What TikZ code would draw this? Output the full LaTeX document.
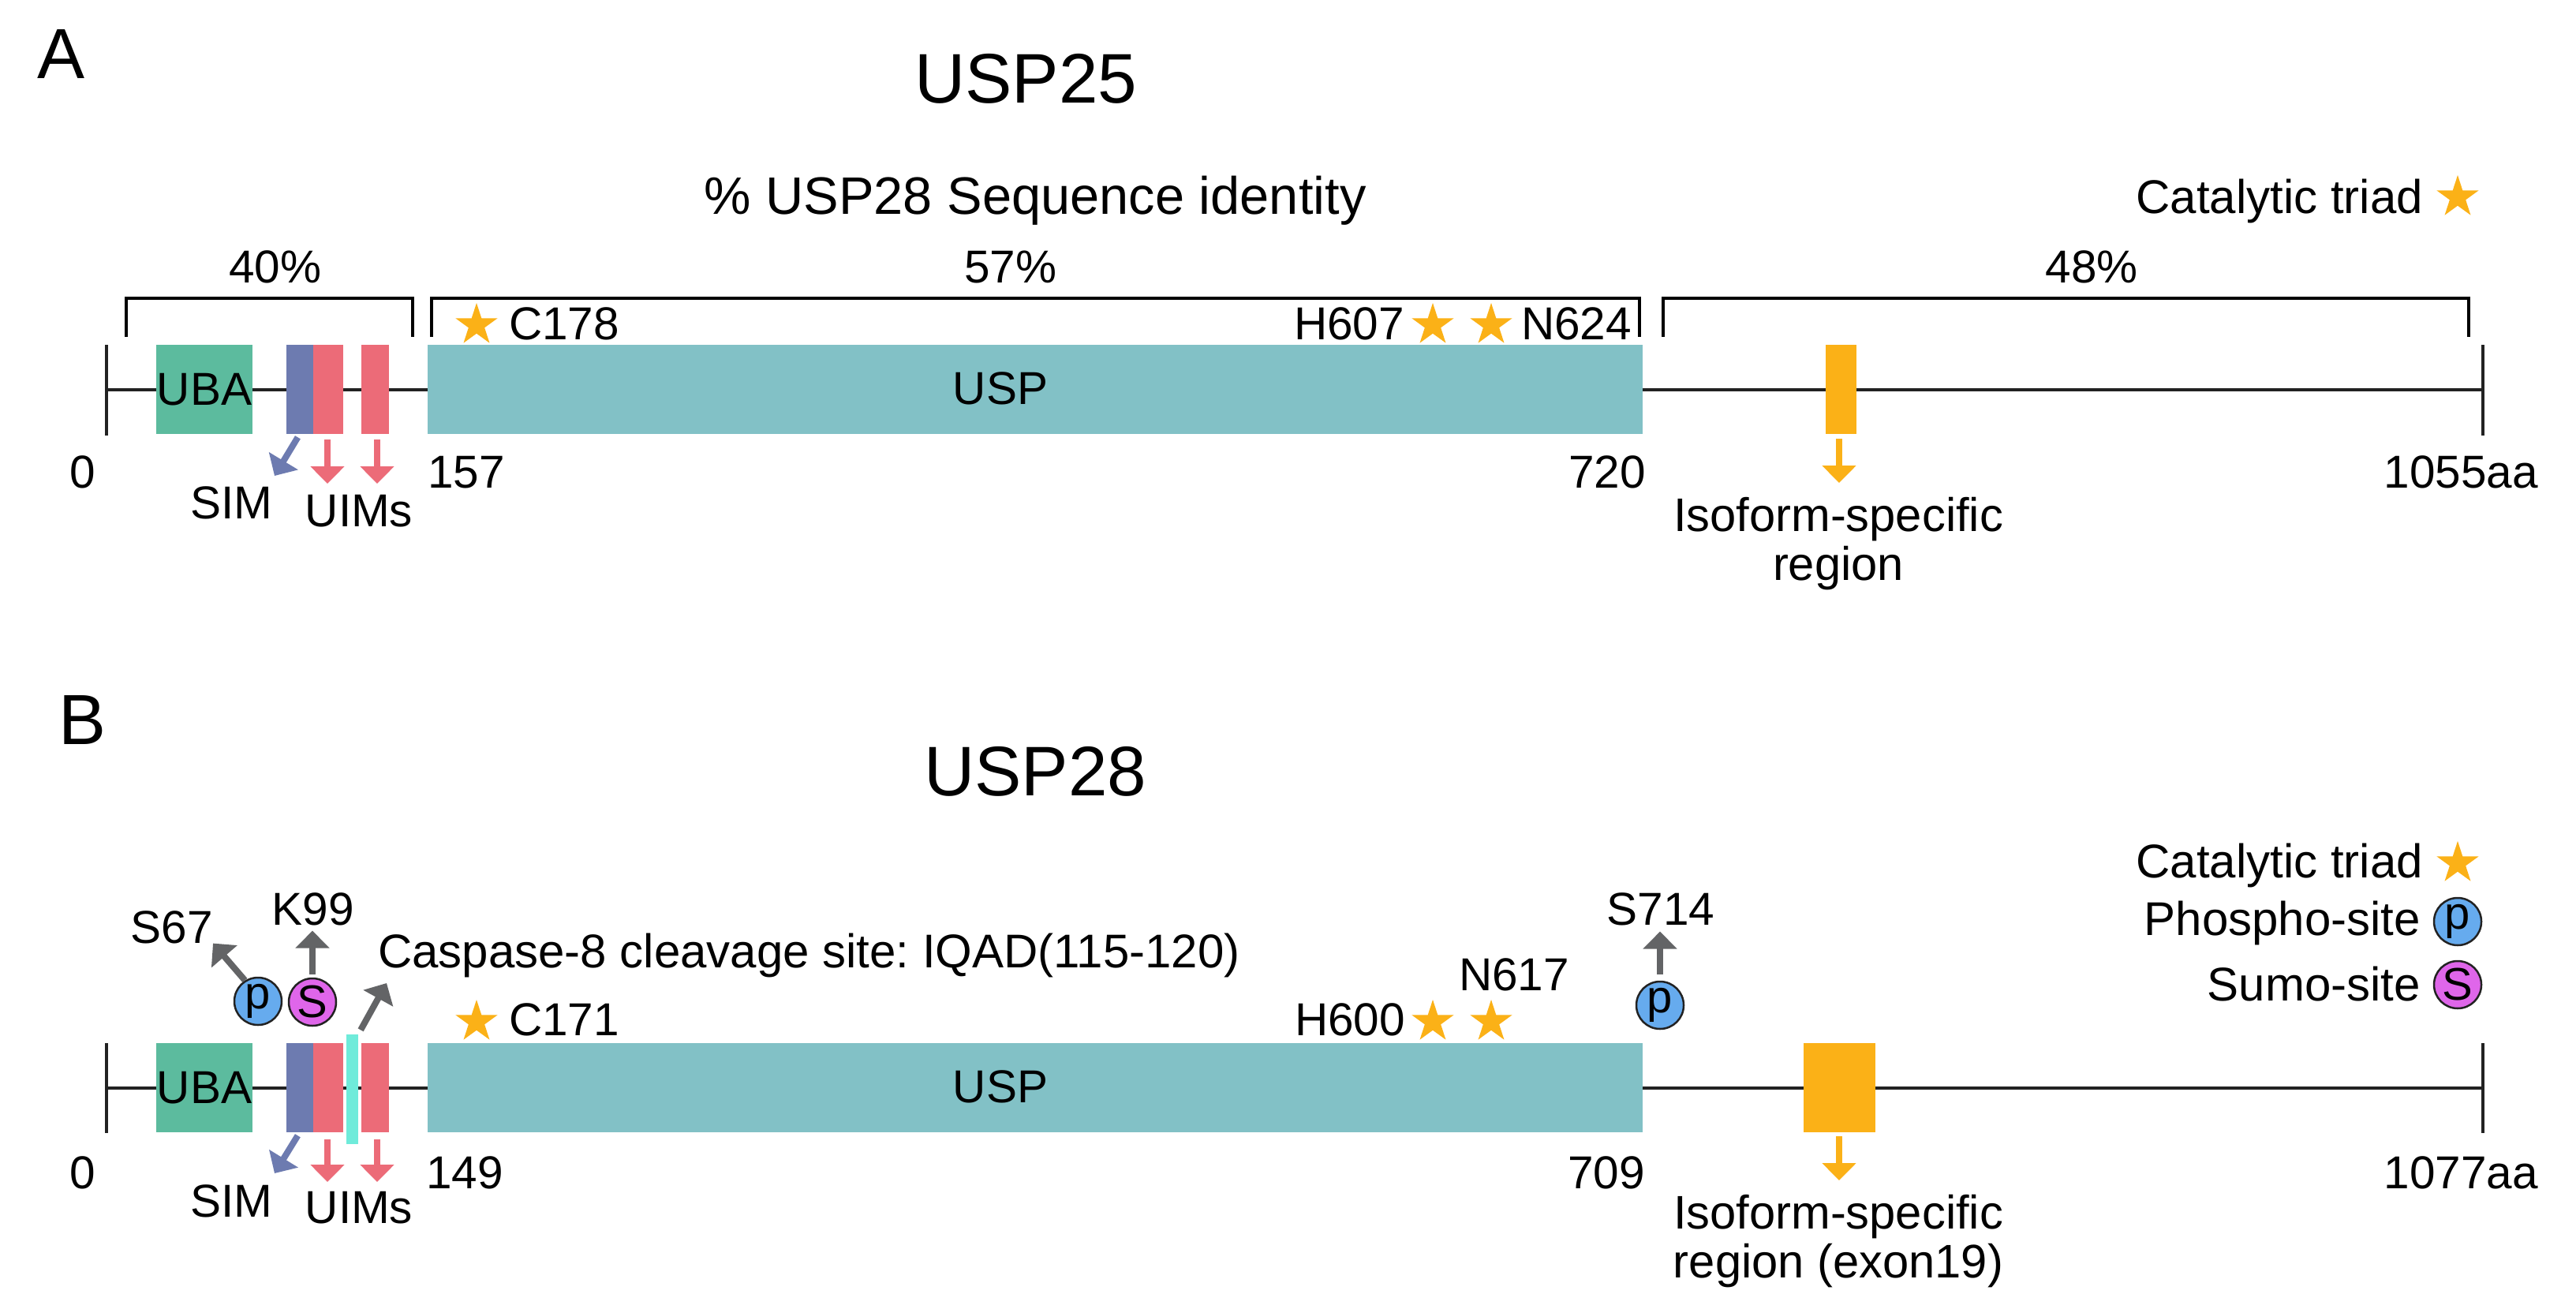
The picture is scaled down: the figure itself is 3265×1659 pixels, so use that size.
\documentclass[tikz,border=0pt]{standalone}
\usepackage{fontspec}
\setmainfont{Liberation Sans}
\usetikzlibrary{shapes.geometric,arrows.meta}
\definecolor{cUBA}{HTML}{5CBB9E}
\definecolor{cSIM}{HTML}{6D7BB0}
\definecolor{cUIM}{HTML}{EC6B78}
\definecolor{cUSP}{HTML}{82C1C6}
\definecolor{cISO}{HTML}{FBB117}
\definecolor{cP}{HTML}{66ABEE}
\definecolor{cS}{HTML}{DF66EA}
\definecolor{cCL}{HTML}{6FEBDA}
\definecolor{cGR}{HTML}{636466}
\definecolor{cLN}{HTML}{222222}
\tikzset{
  lab/.style={inner sep=0pt,outer sep=0pt,font=\fontsize{58.5}{60}\selectfont,anchor=base},
  labl/.style={lab,anchor=base west},
  labr/.style={lab,anchor=base east},
  isolab/.style={lab,font=\fontsize{59.7}{60}\selectfont},
  toplab/.style={lab,font=\fontsize{60}{62}\selectfont},
  titlelab/.style={lab,font=\fontsize{89}{90}\selectfont},
  box/.style={inner sep=0pt,outer sep=0pt,minimum height=113pt,font=\fontsize{58.5}{60}\selectfont},
  tickline/.style={draw=cLN,line width=4pt},
  bracketline/.style={draw=black,line width=3.2pt,line cap=butt,line join=miter},
  tri/.style={star,star points=5,star point ratio=2.618,minimum size=56pt,inner sep=0pt,fill=cISO},
  site/.style={circle,draw=cLN,line width=2.5pt,inner sep=0pt,minimum size=60pt,font=\fontsize{58}{60}\selectfont},
  ar/.style={line width=8pt,-{Triangle[length=22pt,width=42pt]}},
}
\frenchspacing
\begin{document}
\begin{tikzpicture}[x=1pt,y=-1pt]
\path[use as bounding box,fill=white] (0,0) rectangle (3265,1659);

%%%%%%%% Panel A
\node[titlelab,font=\fontsize{90}{90}\selectfont] (lA) at (78,100) {A};
\node[titlelab] (tA) at (1300,131) {USP25};
\node[lab,font=\fontsize{66.8}{70}\selectfont] (idA) at (1312,271) {\% USP28 Sequence identity};
\node[toplab,anchor=base east] (catA) at (3071,270) {Catalytic triad};
\node[tri] (starLegA) at (3115,250) {};

\coordinate (b1a) at (160,427); \coordinate (b1b) at (160,378);
\coordinate (b1c) at (523,378); \coordinate (b1d) at (523,427);
\coordinate (b2a) at (547,427); \coordinate (b2b) at (547,378);
\coordinate (b2c) at (2078,378); \coordinate (b2d) at (2078,427);
\coordinate (b3a) at (2108,427); \coordinate (b3b) at (2108,378);
\coordinate (b3c) at (3129,378); \coordinate (b3d) at (3129,427);
\draw[bracketline] (b1a) -- (b1b) -- (b1c) -- (b1d);
\draw[bracketline] (b2a) -- (b2b) -- (b2c) -- (b2d);
\draw[bracketline] (b3a) -- (b3b) -- (b3c) -- (b3d);
\node[lab] (pc1) at (349,358) {40\%};
\node[lab] (pc2) at (1281,358) {57\%};
\node[lab] (pc3) at (2651,358) {48\%};

\coordinate (aLt) at (135,437); \coordinate (aLb) at (135,552); \coordinate (aLm) at (135,493.5);
\coordinate (aRt) at (3147,437); \coordinate (aRb) at (3147,552); \coordinate (aRm) at (3147,493.5);
\draw[tickline] (aLt) -- (aLb);
\draw[tickline] (aRt) -- (aRb);
\draw[tickline] (aLm) -- (aRm);

\node[box,fill=cUBA,minimum width=122pt] (ubaA) at (259,493.5) {UBA};
\node[box,fill=cSIM,minimum width=34pt] (simA) at (380,493.5) {};
\node[box,fill=cUIM,minimum width=38pt] (uim1A) at (416,493.5) {};
\node[box,fill=cUIM,minimum width=35pt] (uim2A) at (475.5,493.5) {};
\node[box,fill=cUSP,minimum width=1540pt] (uspA) at (1312,493.5) {};
\node[lab] (uspTextA) at (1268,512) {USP};
\node[box,fill=cISO,minimum width=39pt] (isoA) at (2333.5,493.5) {};

\node[tri] (st1A) at (604,412) {};
\node[labl] (c178) at (645,430) {C178};
\node[labr] (h607) at (1780,430) {H607};
\node[tri] (st2A) at (1816,412) {};
\node[tri] (st3A) at (1890,412) {};
\node[labl] (n624) at (1928,430) {N624};

\node[lab] (zeroA) at (105,618) {0};
\node[labl] (n157) at (542,618) {157};
\node[labr] (n720) at (2086,618) {720};
\node[labr] (n1055) at (3217,618) {1055aa};
\node[lab] (simLabA) at (293,657) {SIM};
\node[lab] (uimLabA) at (455,667) {UIMs};
\node[isolab] (isoLabA1) at (2330,673) {Isoform-specific};
\node[isolab] (isoLabA2) at (2330,735) {region};

\coordinate (tipSimA) at (348,603);
\coordinate (tipU1A) at (415,613);
\coordinate (tipU2A) at (478,613);
\coordinate (tipIsoA) at (2331,612);
\draw[ar,draw=cSIM,fill=cSIM,shorten <=5pt] (simA.south) -- (tipSimA);
\draw[ar,draw=cUIM,fill=cUIM,shorten <=7pt] (tipU1A |- uim1A.south) -- (tipU1A);
\draw[ar,draw=cUIM,fill=cUIM,shorten <=7pt] (tipU2A |- uim2A.south) -- (tipU2A);
\draw[ar,draw=cISO,fill=cISO,shorten <=6pt] (tipIsoA |- isoA.south) -- (tipIsoA);

%%%%%%%% Panel B
\node[titlelab,font=\fontsize{90}{90}\selectfont] (lB) at (105,943) {B};
\node[titlelab] (tB) at (1312,1008) {USP28};
\node[toplab,anchor=base east] (catB) at (3071,1112) {Catalytic triad};
\node[tri] (starLegB) at (3115,1094) {};
\node[toplab,anchor=base east] (phoB) at (3068,1185) {Phospho-site};
\node[site,fill=cP] (pLeg) at (3115,1168) {p};
\node[toplab,anchor=base east] (sumB) at (3068,1268) {Sumo-site};
\node[site,fill=cS] (sLeg) at (3115,1248) {S};

\coordinate (bLt) at (135,1322); \coordinate (bLb) at (135,1436); \coordinate (bLm) at (135,1378.5);
\coordinate (bRt) at (3147,1322); \coordinate (bRb) at (3147,1436); \coordinate (bRm) at (3147,1378.5);
\draw[tickline] (bLt) -- (bLb);
\draw[tickline] (bRt) -- (bRb);
\draw[tickline] (bLm) -- (bRm);

\node[box,fill=cUBA,minimum width=122pt] (ubaB) at (259,1378.5) {UBA};
\node[box,fill=cSIM,minimum width=34pt] (simB) at (380,1378.5) {};
\node[box,fill=cUIM,minimum width=38pt] (uim1B) at (416,1378.5) {};
\node[box,fill=cUIM,minimum width=35pt] (uim2B) at (475.5,1378.5) {};
\node[box,fill=cCL,minimum width=15pt,minimum height=139pt] (cleav) at (446.5,1380.5) {};
\node[box,fill=cUSP,minimum width=1540pt] (uspB) at (1312,1378.5) {};
\node[lab] (uspTextB) at (1268,1397) {USP};
\node[box,fill=cISO,minimum width=91pt] (isoB) at (2331.5,1378.5) {};

\node[tri] (st1B) at (604,1295) {};
\node[labl] (c171) at (645,1312) {C171};
\node[labr] (h600) at (1781,1312) {H600};
\node[tri] (st2B) at (1816,1295) {};
\node[tri] (st3B) at (1890,1295) {};
\node[lab] (n617) at (1919,1255) {N617};

\node[site,fill=cP] (pB1) at (327,1269) {p};
\node[site,fill=cS] (sB1) at (396,1270) {S};
\node[site,fill=cP] (pB2) at (2104,1274) {p};
\node[lab] (s67) at (218,1195) {S67};
\node[lab] (k99) at (397,1172) {K99};
\node[lab] (s714) at (2105,1172) {S714};
\node[toplab,font=\fontsize{60}{62}\selectfont,anchor=base west] (casp) at (479,1226) {Caspase-8 cleavage site: IQAD(115-120)};

\node[lab] (zeroB) at (105,1506) {0};
\node[labl] (n149) at (540,1506) {149};
\node[labr] (n709) at (2085,1506) {709};
\node[labr] (n1077) at (3217,1506) {1077aa};
\node[lab] (simLabB) at (293,1542) {SIM};
\node[lab] (uimLabB) at (455,1550) {UIMs};
\node[isolab] (isoLabB1) at (2330,1557) {Isoform-specific};
\node[isolab] (isoLabB2) at (2330,1619) {region (exon19)};

\coordinate (tipSimB) at (348,1487);
\coordinate (tipU1B) at (415,1498);
\coordinate (tipU2B) at (478,1498);
\coordinate (tipIsoB) at (2331,1496);
\coordinate (tipCasp) at (490,1246);
\draw[ar,draw=cSIM,fill=cSIM,shorten <=5pt] (simB.south) -- (tipSimB);
\draw[ar,draw=cUIM,fill=cUIM,shorten <=9pt] (tipU1B |- uim1B.south) -- (tipU1B);
\draw[ar,draw=cUIM,fill=cUIM,shorten <=9pt] (tipU2B |- uim2B.south) -- (tipU2B);
\draw[ar,draw=cISO,fill=cISO,shorten <=5pt] (tipIsoB |- isoB.south) -- (tipIsoB);
\draw[ar,draw=cGR,fill=cGR,shorten <=6.5pt] (cleav.north east) -- (tipCasp);
\draw[ar,draw=cGR,fill=cGR] (pB1.122) -- (s67.south east);
\draw[ar,draw=cGR,fill=cGR,shorten <=4pt,shorten >=7pt] (sB1.north) -- (sB1.north |- k99.south);
\draw[ar,draw=cGR,fill=cGR,shorten <=8pt,shorten >=8pt] (pB2.north) -- (pB2.north |- s714.south);
\end{tikzpicture}
\end{document}
